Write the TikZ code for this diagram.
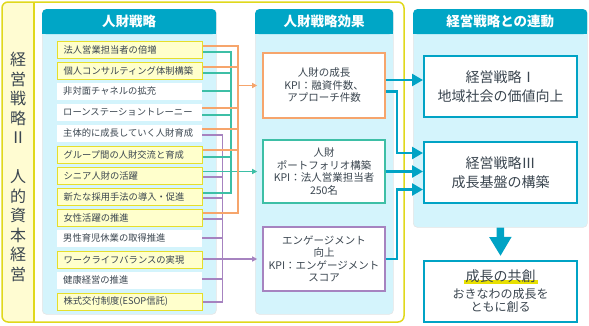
\documentclass[tikz,border=0pt]{standalone}
\usepackage{fontspec}
\setmainfont{Noto Sans CJK JP}
\usetikzlibrary{arrows.meta,calc}
\definecolor{hdr}{HTML}{00A6C6}
\definecolor{pnl}{HTML}{D4F4FC}
\definecolor{yfr}{HTML}{E0D81C}
\definecolor{yband}{HTML}{FFFCD2}
\definecolor{yitem}{HTML}{FFFFCC}
\definecolor{yitemb}{HTML}{E6DF2A}
\definecolor{org}{HTML}{F6A56C}
\definecolor{tea}{HTML}{3DBFA6}
\definecolor{pur}{HTML}{A683C0}
\definecolor{blu}{HTML}{00A3C5}
\definecolor{txt}{HTML}{3B4650}
\definecolor{hl}{HTML}{E8E000}
\begin{document}
\begin{tikzpicture}[x=1pt,y=-1pt,
  every node/.style={text=txt, inner sep=0pt},
  panel/.style={fill=pnl, draw=black!10, line width=0.6pt, rounded corners=4pt, anchor=north west, minimum height=#1},
  hdrbox/.style={fill=hdr, rounded corners=4pt, anchor=north west, minimum height=25pt},
  hdrtext/.style={text=white, font=\fontsize{13.5}{16}\selectfont\bfseries},
  item/.style={anchor=north west, minimum height=17pt, text width=133pt, inner xsep=6pt, align=left, font=\fontsize{9.3}{10}\selectfont},
  itemy/.style={item, fill=yitem, draw=yitemb, line width=1.2pt},
  itemw/.style={item, fill=white},
  kbox/.style={fill=white, line width=1.6pt, minimum width=122pt, align=center, font=\fontsize{10.5}{12.5}\selectfont},
  sbox/.style={fill=white, draw=blu, line width=2pt, minimum width=153pt, minimum height=61pt, align=center, font=\fontsize{14}{19}\selectfont},
  conn/.style={line width=1.8pt},
  ol/.style={conn, draw=org},
  tl/.style={conn, draw=tea},
  pl/.style={conn, draw=pur},
  sarrow/.style={-{Triangle[length=5pt,width=5pt]}, shorten >=5pt},
  bl/.style={draw=blu, line width=2.5pt, -{Triangle[length=11pt,width=12pt]}},
]
\useasboundingbox (0,0) rectangle (589,325);

% outer frame
\begin{scope}
  \clip[rounded corners=6pt] (2,2) rectangle (404,322);
  \fill[yband] (2,2) rectangle (34,322);
\end{scope}
\draw[yfr, line width=1.5pt, rounded corners=6pt] (2,2) rectangle (404,322);
\draw[yfr, line width=1.5pt] (34,2) -- (34,322);
\node[font=\fontsize{16}{19.5}\selectfont, align=center] (lt) at (18,166.8)
  {経\\営\\戦\\略\\Ⅱ\\\mbox{}\\人\\的\\資\\本\\経\\営};

% panels
\node[panel=305pt, minimum width=174pt] (P1) at (42,9) {};
\node[panel=305pt, minimum width=138pt] (P2) at (255,9) {};
\node[panel=218pt, minimum width=174pt] (P3) at (413,9) {};
\node[hdrbox, minimum width=174pt] (H1) at (42,9) {};
\node[hdrbox, minimum width=138pt] (H2) at (255,9) {};
\node[hdrbox, minimum width=174pt] (H3) at (413,9) {};
\fill[hdr] ($(H1.south west)+(0,-6)$) rectangle (H1.south east);
\fill[hdr] ($(H2.south west)+(0,-6)$) rectangle (H2.south east);
\fill[hdr] ($(H3.south west)+(0,-6)$) rectangle (H3.south east);
\node[hdrtext] (T1) at (H1.center) {人財戦略};
\node[hdrtext] (T2) at (H2.center) {人財戦略効果};
\node[hdrtext] (T3) at (H3.center) {経営戦略との連動};

% items
\node[itemy] (i1) at (57,40.7) {法人営業担当者の倍増};
\node[itemy] (i2) at (57,61.7) {個人コンサルティング体制構築};
\node[itemw] (i3) at (57,82.7) {非対面チャネルの拡充};
\node[itemw] (i4) at (57,103.7) {ローンステーショントレーニー};
\node[itemw] (i5) at (57,124.7) {主体的に成長していく人財育成};
\node[itemy] (i6) at (57,145.7) {グループ間の人財交流と育成};
\node[itemy] (i7) at (57,166.7) {シニア人財の活躍};
\node[itemy] (i8) at (57,187.7) {新たな採用手法の導入・促進};
\node[itemy] (i9) at (57,208.7) {女性活躍の推進};
\node[itemw] (i10) at (57,229.7) {男性育児休業の取得推進};
\node[itemy] (i11) at (57,250.7) {ワークライフバランスの実現};
\node[itemw] (i12) at (57,271.7) {健康経営の推進};
\node[itemy] (i13) at (57,292.7) {株式交付制度(ESOP信託)};

% effect boxes
\node[kbox, draw=org, minimum height=65pt] (A) at (324,85.5) {人財の成長\\KPI：融資件数、\\アプローチ件数};
\node[kbox, draw=tea, minimum height=63pt] (B) at (324,171.5) {人財\\ポートフォリオ構築\\KPI：法人営業担当者\\250名};
\node[kbox, draw=pur, minimum height=64pt] (C) at (324,259) {エンゲージメント\\向上\\KPI：エンゲージメント\\スコア};

% strategy boxes
\node[sbox] (D) at (500.5,86.5) {経営戦略Ⅰ\\地域社会の価値向上};
\node[sbox] (E) at (500.5,172.5) {経営戦略Ⅲ\\成長基盤の構築};
\node[sbox, font=\fontsize{12}{13}\selectfont] (F) at (500.5,291.5) {{\fontsize{14}{16}\selectfont\rlap{\hspace{-2pt}\textcolor{hl}{\rule[-2pt]{74pt}{4pt}}}成長の共創}\\[4pt]おきなわの成長を\\ともに創る};

% junctions
\path (A.west) ++(-24,0) coordinate (ojoin);
\path (B.west) ++(-31.3,0) coordinate (tjoin);
\path (C.west) ++(-39.7,0) coordinate (pjoin);

% purple
\foreach \n/\o in {i5/10.5, i7/10.6, i8/10.6, i9/10.6, i10/8, i12/7.6, i13/9}
  \draw[pl] ($(\n.north east)+(0,\o)$) -| (pjoin);
\draw[pl, sarrow] (i11.east |- C.west) -- (C.west);
% teal
\foreach \n/\o in {i1/11, i2/11, i3/8, i4/11, i6/11, i8/5}
  \draw[tl] ($(\n.north east)+(0,\o)$) -| (tjoin);
\draw[tl, sarrow] (i7.east |- B.west) -- (B.west);
% orange
\foreach \n/\o in {i1/5, i2/5, i4/4.3, i5/4.6, i6/4.6, i9/4.6}
  \draw[ol] ($(\n.north east)+(0,\o)$) -| (ojoin);
\draw[ol, sarrow] (ojoin) -- (A.west);

% blue connectors
\path ($(A.east)+(0,-5.5)$) coordinate (a1);
\path ($(A.east)+(0,6)$) coordinate (a2);
\path ($(E.west)+(0,-19.5)$) coordinate (e1);
\path ($(E.west)+(0,17)$) coordinate (e3);
\draw[bl] (a1) -- (a1 -| D.west);
\draw[bl] (a2) -| ($(e1)+(-26,0)$) -- (e1);
\draw[bl] (B.east) -- (B.east -| E.west);
\draw[bl] (C.east) -| ($(e3)+(-26,0)$) -- (e3);
\draw[draw=blu, line width=7.5pt, -{Triangle[length=19pt,width=21pt]}] (P3.south) -- ($(F.north)+(0,-4)$);
\end{tikzpicture}
\end{document}
